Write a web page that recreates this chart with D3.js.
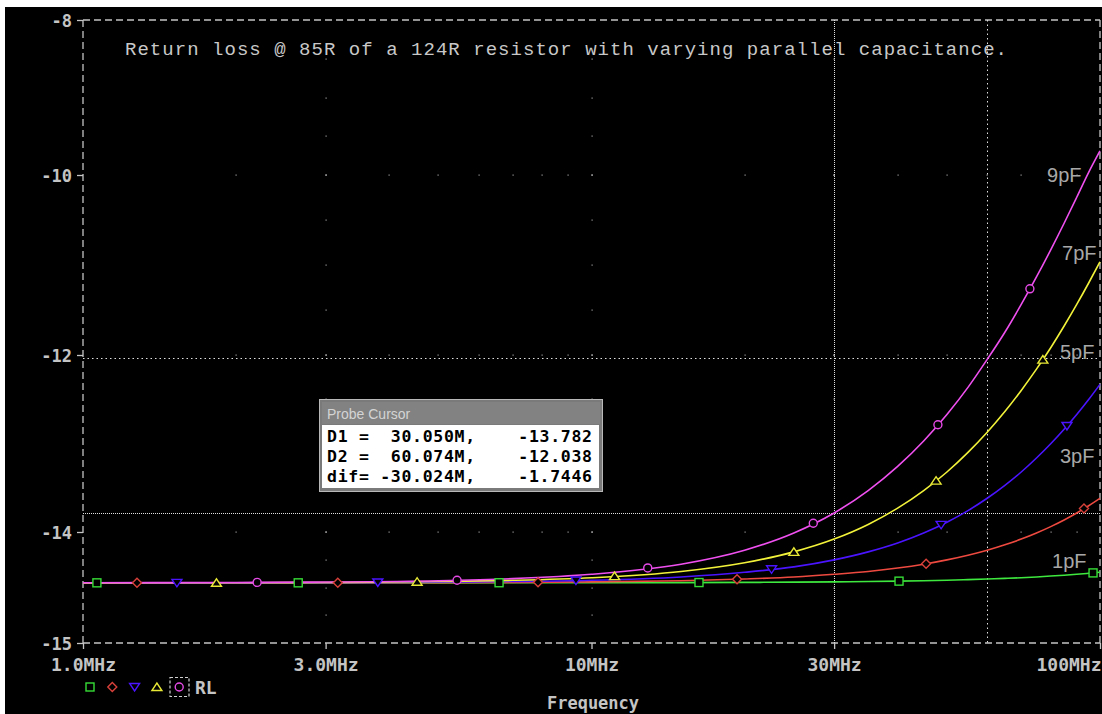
<!DOCTYPE html>
<html><head><meta charset="utf-8">
<script src="https://cdn.jsdelivr.net/npm/d3@7"></script>
<style>html,body{margin:0;padding:0;background:#fff;overflow:hidden}svg{display:block}</style>
</head><body><svg id="c" width="1102" height="714"></svg>
<script>
// ---- data ----
const freqMHz = [1,2,3,5,7,10,15,20,25,30,35,40,45,50,55,60,65,70,75,80,85,90,95,100];
const rl1pF = [-14.458,-14.458,-14.458,-14.458,-14.457,-14.457,-14.456,-14.454,-14.452,-14.449,-14.446,-14.443,-14.439,-14.435,-14.429,-14.423,-14.418,-14.412,-14.405,-14.397,-14.389,-14.381,-14.372,-14.363];
const rl3pF = [-14.458,-14.458,-14.457,-14.456,-14.454,-14.449,-14.439,-14.423,-14.405,-14.381,-14.356,-14.325,-14.290,-14.251,-14.209,-14.164,-14.115,-14.064,-14.009,-13.939,-13.864,-13.785,-13.703,-13.619];
const rl5pF = [-14.458,-14.458,-14.457,-14.452,-14.446,-14.435,-14.405,-14.363,-14.314,-14.251,-14.179,-14.099,-14.009,-13.889,-13.758,-13.619,-13.473,-13.322,-13.164,-13.003,-12.839,-12.672,-12.503,-12.332];
const rl7pF = [-14.458,-14.457,-14.455,-14.446,-14.435,-14.412,-14.356,-14.277,-14.179,-14.064,-13.915,-13.731,-13.532,-13.322,-13.100,-12.872,-12.638,-12.400,-12.160,-11.919,-11.678,-11.438,-11.200,-10.965];
const rl9pF = [-14.457,-14.455,-14.451,-14.439,-14.420,-14.381,-14.290,-14.164,-14.009,-13.785,-13.532,-13.259,-12.971,-12.672,-12.366,-12.050,-11.747,-11.438,-11.133,-10.832,-10.536,-10.247,-9.965,-9.688];
const seriesNames = ["1pF","3pF","5pF","7pF","9pF"];
const markerFreqs = [
  [1.065,2.65,6.58,16.27,40.25,96.9],
  [1.277,3.17,7.85,19.33,45.5,93.0],
  [1.53,3.80,9.32,22.6,48.7,86.1],
  [1.83,4.54,11.1,25.0,47.6,77.2],
  [2.20,5.44,12.9,27.3,48.0,72.8]
];
const xTickValues = [1,3,10,30,100];
const xTickLabels = ["1.0MHz","3.0MHz","10MHz","30MHz","100MHz"];
const yTickValues = [-15,-14,-12,-10,-8];
const yTickLabels = ["-15","-14","-12","-10","-8"];
const xMinorValues = [2,3,4,5,6,7,8,9,10,20,30,40,50,60,70,80,90];
const cursorFreqMHz = [30.050, 60.074];
const cursorRL = [-13.782, -12.038];
const probeRows = ["D1 =  30.050M,    -13.782","D2 =  60.074M,    -12.038","dif= -30.024M,    -1.7446"];
const titleText = "Return loss @ 85R of a 124R resistor with varying parallel capacitance.";
// label anchors (freq MHz, dB)
const labelFreq = [80.5, 83.4, 83.4, 84.2, 78.7];
const labelRL = [-14.324, -13.220, -12.045, -10.944, -10.078];

const allSeries = [rl1pF, rl3pF, rl5pF, rl7pF, rl9pF];
const colors = ["#3ee83e","#ee4a40","#4a14ff","#f2f23a","#f050f0"];
const markerColors = ["#36dc36","#d8403a","#4a14ff","#e8e836","#e64ae6"];

// ---- scales ----
const x = d3.scaleLog().domain([1,100]).range([83,1100]);
const y = d3.scaleLinear().domain(yTickValues).range([643,532,355,175,20]);
const X0 = 83, X1 = 1100, Y0 = 20, Y1 = 643;

const svg = d3.select("#c");
svg.append("rect").attr("x",5).attr("y",7).attr("width",1097).attr("height",707).attr("fill","#000");

const grey = "#c4c4c4";
// grid dots
const gdots = svg.append("g").attr("fill","#9a9a9a");
[-14,-12,-10].forEach(v=>{
  xMinorValues.forEach(f=>{
    gdots.append("rect").attr("x",Math.round(x(f))-0.5).attr("y",Math.round(y(v))-0.5).attr("width",1.2).attr("height",1.2);
  });
});
const yMinor = [];
for (let i=0;i<yTickValues.length-1;i++){
  const a=yTickValues[i], b=yTickValues[i+1];
  for (let k=0;k<=4;k++) yMinor.push(a+(b-a)*k/4);
}
[3,10,30].forEach(f=>{
  yMinor.forEach(v=>{
    if (v===-15||v===-8) return;
    gdots.append("rect").attr("x",Math.round(x(f))-0.5).attr("y",Math.round(y(v))-0.5).attr("width",1.2).attr("height",1.2);
  });
});

// frame (dashed)
const frame = svg.append("g").attr("stroke",grey).attr("stroke-width",1.3).attr("stroke-dasharray","7,4").attr("fill","none");
frame.append("line").attr("x1",X0).attr("x2",X1).attr("y1",Y0).attr("y2",Y0);
frame.append("line").attr("x1",X0).attr("x2",X1).attr("y1",Y1).attr("y2",Y1);
frame.append("line").attr("x1",X0).attr("x2",X0).attr("y1",Y0).attr("y2",Y1);
frame.append("line").attr("x1",X1).attr("x2",X1).attr("y1",Y0).attr("y2",Y1);

// axes
const yAxis = svg.append("g").attr("transform",`translate(${X0},0)`)
  .call(d3.axisLeft(y).tickValues(yTickValues).tickFormat((d,i)=>yTickLabels[i]).tickSize(6).tickPadding(5));
yAxis.select(".domain").remove();
yAxis.selectAll("line").attr("stroke",grey).attr("stroke-width",1.3);
yAxis.selectAll("text").attr("fill",grey).attr("font-family","'DejaVu Sans Mono',monospace").attr("font-weight","bold").attr("font-size","17px").attr("dy","0.36em");

const xAxis = svg.append("g").attr("transform",`translate(0,${Y1})`)
  .call(d3.axisBottom(x).tickValues(xTickValues).tickFormat((d,i)=>xTickLabels[i]).tickSize(6));
xAxis.select(".domain").remove();
xAxis.selectAll("line").attr("stroke",grey).attr("stroke-width",1.3);
xAxis.selectAll("text").attr("fill",grey).attr("font-family","'DejaVu Sans Mono',monospace").attr("font-weight","bold").attr("font-size","18px").attr("dy",null).attr("y",28)
  .each(function(d){ if (d===100){ d3.select(this).attr("text-anchor","end").attr("x",1);} });

svg.append("text").attr("x",593).attr("y",709).attr("text-anchor","middle").attr("fill",grey)
  .attr("font-family","'DejaVu Sans Mono',monospace").attr("font-weight","bold").attr("font-size","17px").text("Frequency");

// title
svg.append("text").attr("x",125).attr("y",55).attr("fill","#c8c8c8")
  .attr("font-family","'Liberation Mono',monospace").attr("font-size","19px")
  .attr("textLength",882).attr("lengthAdjust","spacing").style("white-space","pre").text(titleText);

// cursor lines
cursorRL.forEach((v,i)=>{
  svg.append("line").attr("x1",X0).attr("x2",X1).attr("y1",Math.round(y(v))+0.5).attr("y2",Math.round(y(v))+0.5)
    .attr("stroke","#e0e0e0").attr("stroke-width",1).attr("stroke-dasharray", i===0?"1,1":"1.5,3");
});
cursorFreqMHz.forEach((f,i)=>{
  svg.append("line").attr("y1",Y0).attr("y2",Y1).attr("x1",Math.round(x(f))+0.5).attr("x2",Math.round(x(f))+0.5)
    .attr("stroke","#e0e0e0").attr("stroke-width",1).attr("stroke-dasharray", i===0?"1,1":"1.5,3");
});

// curves
const line = d3.line().x(d=>x(d[0])).y(d=>y(d[1])).curve(d3.curveMonotoneX);
allSeries.forEach((s,i)=>{
  svg.append("path").attr("d",line(freqMHz.map((f,j)=>[f,s[j]])))
    .attr("fill","none").attr("stroke",colors[i]).attr("stroke-width",1.6);
});

// markers
function interp(s,f){
  const lf=Math.log10(f);
  for(let j=0;j<freqMHz.length-1;j++){
    const a=Math.log10(freqMHz[j]), b=Math.log10(freqMHz[j+1]);
    if(lf>=a && lf<=b){ const t=(lf-a)/(b-a); return s[j]+(s[j+1]-s[j])*t; }
  }
  return s[s.length-1];
}
function drawMarker(g,type,cx,cy,col){
  const common = el=>el.attr("fill","#000").attr("stroke",col).attr("stroke-width",1.4);
  if(type===0) common(g.append("rect").attr("x",cx-4).attr("y",cy-4).attr("width",8).attr("height",8));
  else if(type===1) common(g.append("path").attr("d",`M${cx},${cy-4.5}L${cx+4.5},${cy}L${cx},${cy+4.5}L${cx-4.5},${cy}Z`));
  else if(type===2) common(g.append("path").attr("d",`M${cx-5},${cy-3.5}L${cx+5},${cy-3.5}L${cx},${cy+4}Z`));
  else if(type===3) common(g.append("path").attr("d",`M${cx-5},${cy+3.5}L${cx+5},${cy+3.5}L${cx},${cy-4}Z`));
  else common(g.append("circle").attr("cx",cx).attr("cy",cy).attr("r",4));
}
const mg = svg.append("g");
allSeries.forEach((s,i)=>{
  markerFreqs[i].forEach(f=>drawMarker(mg,i,x(f),y(interp(s,f)),markerColors[i]));
});

// series labels
seriesNames.forEach((n,i)=>{
  svg.append("text").attr("x",x(labelFreq[i])).attr("y",y(labelRL[i])).attr("fill","#a8a8a8")
    .attr("font-family","'Liberation Sans',Arial,sans-serif").attr("font-size","20px").text(n);
});

// legend
const lg = svg.append("g");
seriesNames.forEach((n,i)=>drawMarker(lg,i,90+i*22.3,687,markerColors[i]));
lg.append("rect").attr("x",170).attr("y",677.5).attr("width",19).attr("height",19).attr("fill","none")
  .attr("stroke","#d0d0d0").attr("stroke-width",1.2).attr("stroke-dasharray","3,2");
lg.append("text").attr("x",195).attr("y",693.5).attr("fill",grey).attr("font-family","'DejaVu Sans Mono',monospace")
  .attr("font-weight","bold").attr("font-size","18px").text("RL");

// probe cursor box
const pb = svg.append("g");
pb.append("rect").attr("x",319).attr("y",399).attr("width",284).attr("height",93).attr("fill","#b8b8b8");
pb.append("rect").attr("x",320).attr("y",400).attr("width",282).attr("height",91).attr("fill","#7a7a7a");
pb.append("rect").attr("x",322).attr("y",402).attr("width",278).attr("height",22).attr("fill","#828282");
pb.append("text").attr("x",327).attr("y",419).attr("fill","#d4d4d4").attr("font-family","'Liberation Sans',Arial,sans-serif")
  .attr("font-size","14px").text("Probe Cursor");
pb.append("rect").attr("x",322).attr("y",425).attr("width",277).attr("height",63).attr("fill","#fff");
probeRows.forEach((r,i)=>{
  pb.append("text").attr("x",327).attr("y",442+i*19.8).attr("fill","#000")
    .attr("font-family","'DejaVu Sans Mono',monospace").attr("font-weight","bold").attr("font-size","16.5px")
    .attr("textLength",265).attr("lengthAdjust","spacing").style("white-space","pre").text(r);
});
</script></body></html>
